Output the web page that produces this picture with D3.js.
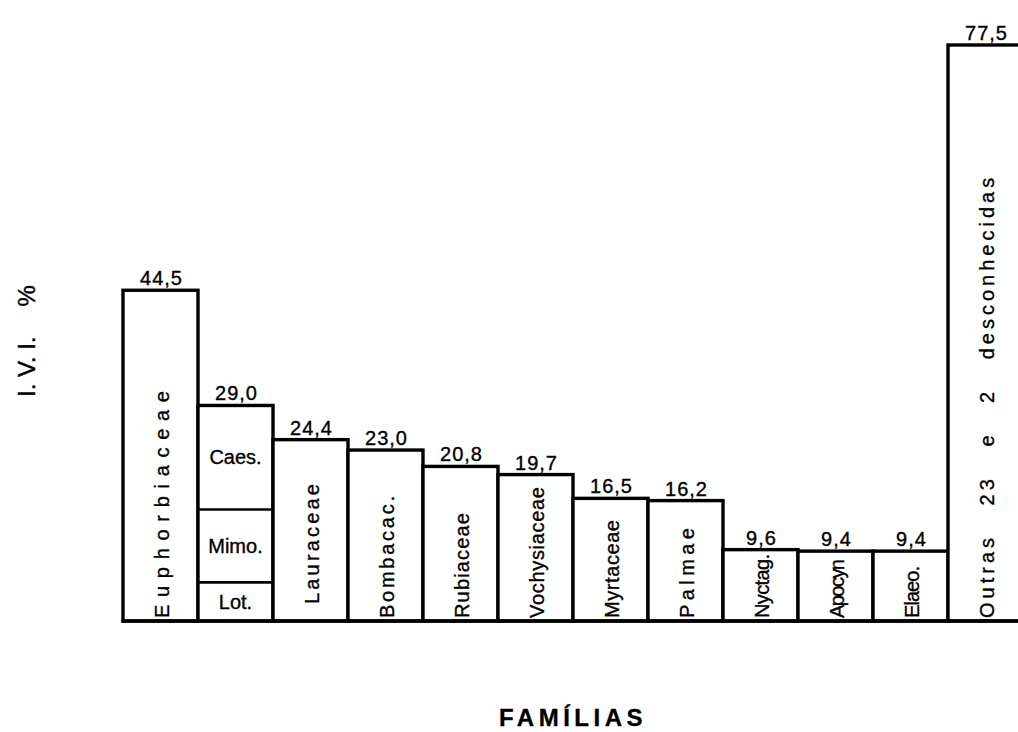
<!DOCTYPE html>
<html>
<head>
<meta charset="utf-8">
<script src="https://cdn.jsdelivr.net/npm/d3@7.9.0/dist/d3.min.js"></script>
<style>
  html, body { margin: 0; padding: 0; background: #fff; }
  svg { display: block; font-family: "Liberation Sans", Arial, sans-serif; }
  text { stroke: #000; stroke-width: 0.35px; }
</style>
</head>
<body>
<svg id="chart" width="1018" height="732"></svg>
<script>
/* ──── data ──── */
const families = [
  "Euphorbiaceae", "Leguminosae", "Lauraceae", "Bombacac.", "Rubiaceae",
  "Vochysiaceae", "Myrtaceae", "Palmae", "Nyctag.", "Apocyn", "Elaeo.",
  "Outras 23 e 2 desconhecidas"
];
const ivi = [44.5, 29.0, 24.4, 23.0, 20.8, 19.7, 16.5, 16.2, 9.6, 9.4, 9.4, 77.5];

// the Leguminosae bar is split in three sub-families (bottom to top)
const stackedFamily = "Leguminosae";
const subFamilies   = ["Lot.", "Mimo.", "Caes."];
const subValues     = [5.2, 9.8, 14.0];

/* ──── label look (length of each rotated name along the bar) ──── */
const labelLength = {
  "Euphorbiaceae": 227, "Lauraceae": 120, "Bombacac.": 122, "Rubiaceae": 105,
  "Vochysiaceae": 131, "Myrtaceae": 98, "Palmae": 90, "Nyctag.": 64,
  "Apocyn": 59, "Elaeo.": 52
};
const labelLift = { "Lauraceae": 14 };

/* ──── layout ──── */
const svg = d3.select('#chart');
const baseY = 621;

const x = d3.scaleBand()
  .domain(families)
  .range([123, 1023])
  .paddingInner(0)
  .paddingOuter(0);

const y = d3.scaleLinear()
  .domain([0, 77.5])
  .range([baseY, 45]);

const rows = families.map((f, i) => ({ name: f, value: ivi[i] }));

/* ──── bars ──── */
svg.append('g')
  .selectAll('rect')
  .data(rows)
  .join('rect')
  .attr('x', d => x(d.name))
  .attr('y', d => y(d.value))
  .attr('width', x.bandwidth())
  .attr('height', d => y(0) - y(d.value))
  .attr('fill', '#fff')
  .attr('stroke', '#000')
  .attr('stroke-width', 3.4);

/* ──── stacked sub-families ──── */
let acc = 0;
const segs = subFamilies.map((s, i) => {
  const seg = { name: s, y0: acc, y1: acc + subValues[i] };
  acc += subValues[i];
  return seg;
});

const gx = x(stackedFamily), bw = x.bandwidth();

svg.append('g')
  .selectAll('line')
  .data(segs.slice(0, -1))
  .join('line')
  .attr('x1', gx)
  .attr('x2', gx + bw)
  .attr('y1', d => y(d.y1))
  .attr('y2', d => y(d.y1))
  .attr('stroke', '#000')
  .attr('stroke-width', 2.6);

svg.append('g')
  .selectAll('text')
  .data(segs)
  .join('text')
  .attr('x', gx + bw / 2)
  .attr('y', d => y((d.y0 + d.y1) / 2))
  .attr('text-anchor', 'middle')
  .attr('dominant-baseline', 'central')
  .attr('font-size', 20)
  .text(d => d.name);

/* ──── baseline ──── */
svg.append('line')
  .attr('x1', x.range()[0] - 1.5)
  .attr('x2', 1018)
  .attr('y1', y(0))
  .attr('y2', y(0))
  .attr('stroke', '#000')
  .attr('stroke-width', 3.6);

/* ──── value labels ──── */
svg.append('g')
  .selectAll('text')
  .data(rows)
  .join('text')
  .attr('x', d => x(d.name) + bw / 2 + 1)
  .attr('y', d => y(d.value) - 5)
  .attr('text-anchor', 'middle')
  .attr('font-size', 20)
  .attr('letter-spacing', 1)
  .text(d => d3.format('.1f')(d.value).replace('.', ','));

/* ──── rotated family names ──── */
svg.append('g')
  .selectAll('text')
  .data(rows.filter(d => d.name !== stackedFamily))
  .join('text')
  .attr('transform', d =>
    `translate(${x(d.name) + bw / 2 + 1},${baseY - 3 - (labelLift[d.name] || 0)}) rotate(-90)`)
  .attr('dominant-baseline', 'central')
  .attr('font-size', 20)
  .each(function (d) {
    const t = d3.select(this);
    if (labelLength[d.name]) {
      t.attr('textLength', labelLength[d.name]).attr('lengthAdjust', 'spacing');
    } else {
      t.attr('letter-spacing', 4).attr('word-spacing', 19);
    }
  })
  .text(d => d.name);

/* ──── axis titles ──── */
const yTitle = svg.append('text')
  .attr('transform', 'translate(26,397) rotate(-90)')
  .attr('dominant-baseline', 'central')
  .attr('font-size', 24);
yTitle.append('tspan').text('I. V. I.');
yTitle.append('tspan').attr('dx', 30).text('%');

svg.append('text')
  .attr('x', 573)
  .attr('y', 726)
  .attr('text-anchor', 'middle')
  .attr('font-size', 24)
  .attr('font-weight', 'bold')
  .attr('letter-spacing', 4.5)
  .text('FAMÍLIAS');
</script>
</body>
</html>
